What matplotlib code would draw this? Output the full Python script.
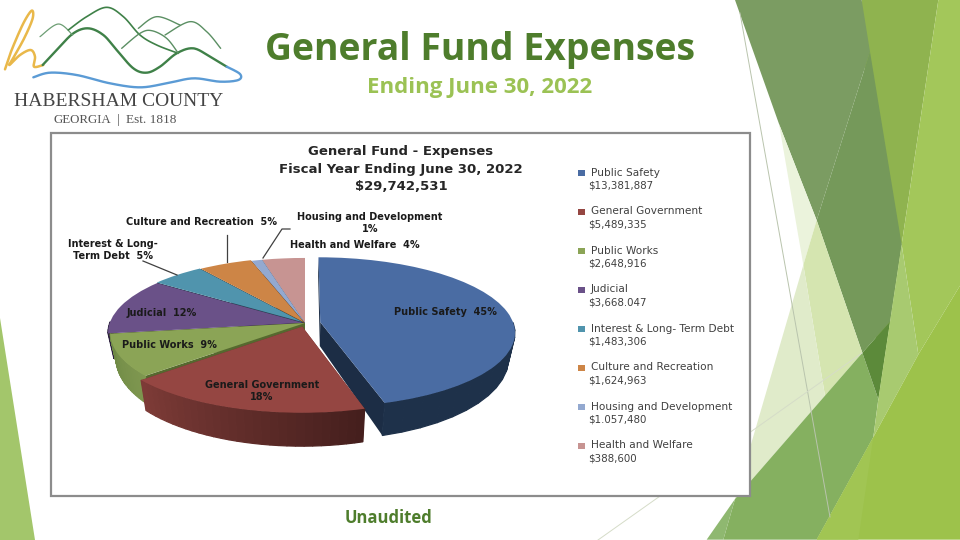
import numpy as np
import matplotlib
matplotlib.use("Agg")
import matplotlib.pyplot as plt
from matplotlib.transforms import Transform
from matplotlib.patches import Polygon, Rectangle

categories = ["Public Safety", "General Government", "Public Works", "Judicial",
              "Interest & Long- Term Debt", "Culture and Recreation",
              "Housing and Development", "Health and Welfare"]
percents = [45, 18, 9, 12, 5, 5, 1, 4]
amounts = ["$13,381,887", "$5,489,335", "$2,648,916", "$3,668.047",
           "$1,483,306", "$1,624,963", "$1.057,480", "$388,600"]

top_colors = ["#4a6ca3", "#954642", "#8ba456", "#6a5188", "#5094ad", "#cd8546", "#93a9d0", "#c79492"]
side_left = ["#1c2d45", "#7d3b37", "#7f9750", "#2e2240", "#35667a", "#8e5a2c", "#5f7190", "#8a6462"]
side_right = ["#203450", "#451f1d", "#6f8a45", "#2e2240", "#2f5a6c", "#7d4f27", "#566783", "#7c5957"]
cut_colors = ["#1c2d45", "#6b302d", "#56692f", "#2e2240", "#264a59", "#6b4320", "#47556d", "#6b4d4b"]
explode = [0.08, 0.05, 0.0, 0.012, 0.018, 0.012, 0.0, 0.0]

# pie tilt, in pixels
CX, CY, RX, RY, K = 305, 323, 193, 73.7, 0.133


def project(u, v, z=0.0):
    u, v = np.asarray(u, float), np.asarray(v, float)
    d = 1 + K * v
    x = RX * u / d
    y = RY * v / d
    if z:
        # bottom face, shifted down and a bit narrower
        return CX + x * 0.97, CY - y + (24 - 9 * v)
    return CX + x, CY - y


class Tilt(Transform):
    input_dims = 2
    output_dims = 2

    def transform_non_affine(self, values):
        x, y = project(values[:, 0], values[:, 1])
        return np.column_stack([x, y])


fig = plt.figure(figsize=(9.6, 5.4), dpi=100, facecolor="white")
ax = fig.add_axes([0, 0, 1, 1])
wedges, _ = ax.pie(percents, explode=explode, startangle=90, counterclock=False,
                   colors=top_colors, wedgeprops={"linewidth": 0})
ax.set_aspect("auto")
ax.set_xlim(0, 960)
ax.set_ylim(540, 0)
ax.set_axis_off()

facets = [
    ("#8fb34f", [(485, 0), (715, 0), (605, 710), (570, 935), (535, 1160)]),
    ("#a3c75a", [(715, 0), (780, 0), (780, 830), (655, 1030), (605, 710)]),
    ("#7b9c62", [(105, 0), (485, 0), (510, 150), (350, 640), (237, 360)]),
    ("#75995a", [(510, 150), (605, 710), (570, 935), (487, 1025), (350, 640)]),
    ("#ebf3dc", [(237, 360), (350, 640), (310, 770)]),
    ("#d5e5b0", [(350, 640), (487, 1025), (375, 1150), (310, 770)]),
    ("#e0ebca", [(310, 770), (375, 1150), (105, 1450)]),
    ("#85b060", [(487, 1025), (535, 1160), (520, 1270), (350, 1568), (70, 1568), (105, 1450)]),
    ("#8fb870", [(105, 1450), (70, 1568), (20, 1568)]),
    ("#5c8a3a", [(487, 1025), (570, 935), (535, 1160)]),
    ("#a8ca70", [(570, 935), (605, 710), (655, 1030), (520, 1270), (535, 1160)]),
    ("#9dc24b", [(780, 830), (780, 1568), (350, 1568), (520, 1270), (655, 1030)]),
    ("#a1c553", [(520, 1270), (475, 1568), (350, 1568)]),
]
for color, pts in facets:
    pts = np.array(pts, float)
    ax.add_patch(Polygon(np.column_stack([700 + pts[:, 0] / 3, pts[:, 1] / 3 * 540 / 523]),
                         closed=True, fc=color, ec="none", zorder=1))
ax.add_patch(Polygon([(0, 318), (35, 540), (0, 540)], closed=True, fc="#a3c66b", ec="none", zorder=1))
ax.plot([740, 830], [13, 517], color="#b9c4ad", lw=0.7, zorder=1.5)
ax.plot([598, 862], [540, 353], color="#d5dcc8", lw=0.7, zorder=1.5)

# chart box
ax.add_patch(Rectangle((51, 133), 699, 363, fc="white", ec="#8c8c8c", lw=1.6, zorder=2))

# slices: sides first, then the top, far slices before near ones
fractions = np.array(percents, float) / sum(percents)
edges = np.concatenate([[0], np.cumsum(fractions)]) * 2 * np.pi
mids = (edges[:-1] + edges[1:]) / 2
order = np.argsort(-np.cos(mids))
for rank, i in enumerate(order):
    z = 3 + rank * 0.1
    ox = explode[i] * np.sin(mids[i])
    oy = explode[i] * np.cos(mids[i])
    for a in (edges[i], edges[i + 1]):
        us = np.array([ox, ox + np.sin(a)])
        vs = np.array([oy, oy + np.cos(a)])
        tx, ty = project(us, vs)
        bx, by = project(us, vs, 1)
        ax.fill(np.r_[tx, bx[::-1]], np.r_[ty, by[::-1]], color=cut_colors[i], lw=0, zorder=z)
    angles = np.linspace(edges[i], edges[i + 1], 30)
    c0 = np.array(matplotlib.colors.to_rgb(side_left[i]))
    c1 = np.array(matplotlib.colors.to_rgb(side_right[i]))
    for j in range(len(angles) - 1):
        us = ox + np.sin(angles[j:j + 2])
        vs = oy + np.cos(angles[j:j + 2])
        if vs.max() > 0.02:
            continue
        tx, ty = project(us, vs)
        bx, by = project(us, vs, 1)
        # left colour sits at the small-x end of the slice
        t = 1 - j / (len(angles) - 2) if angles[0] < np.pi else j / (len(angles) - 2)
        if i == 0:
            t = 0.5
        ax.fill(np.r_[tx, bx[::-1]], np.r_[ty, by[::-1]], color=c0 + (c1 - c0) * t,
                lw=0.9, zorder=z + 0.01)
    wedges[i].set_transform(Tilt() + ax.transData)
    wedges[i].set_zorder(z + 0.02)

# labels on and around the pie
label_font = {"family": "DejaVu Sans", "weight": "bold", "fontsize": 7.0,
              "ha": "center", "va": "center", "zorder": 8, "color": "#1a1a1a", "linespacing": 1.35}
ax.text(445, 312, f"{categories[0]}  {percents[0]}%", **label_font)
ax.text(262, 391, f"{categories[1]}\n{percents[1]}%", **label_font)
ax.text(169, 345, f"{categories[2]}  {percents[2]}%", **label_font)
ax.text(162, 313, f"{categories[3]}  {percents[3]}%", **label_font)
ax.text(113, 250, f"Interest & Long-\nTerm Debt  {percents[4]}%", **label_font)
ax.text(201, 222, f"{categories[5]}  {percents[5]}%", **label_font)
ax.text(370, 223, f"{categories[6]}\n{percents[6]}%", **label_font)
ax.text(355, 245, f"{categories[7]}  {percents[7]}%", **label_font)

leader = {"color": "#404040", "lw": 0.9, "zorder": 7}
ax.plot([227, 227], [235, 262], **leader)
ax.plot([143, 177], [261, 275], **leader)
ax.plot([290, 282, 263], [229, 229, 258], **leader)

# chart title
for y, line in [(152, "General Fund - Expenses"), (170, "Fiscal Year Ending June 30, 2022"),
                (187, "$29,742,531")]:
    ax.text(401, y, line, fontsize=9.5, weight="bold", ha="center", va="center",
            family="DejaVu Sans", color="#262626", zorder=8)

# legend
for i, name in enumerate(categories):
    y = 172.5 + i * 39
    ax.add_patch(Rectangle((578, y - 3), 7, 6, fc=top_colors[i], ec="none", zorder=8))
    ax.text(591, y, name, fontsize=7.6, ha="left", va="center", family="DejaVu Sans", color="#404040", zorder=8)
    ax.text(588, y + 13, amounts[i], fontsize=7.4, ha="left", va="center", family="DejaVu Sans",
            color="#404040", zorder=8)

# slide headings
ax.text(480, 50, "General Fund Expenses", fontsize=26.9, weight="bold", ha="center", va="center",
        family="Open Sans", color="#4e7d2c", zorder=8)
ax.text(480, 87, "Ending June 30, 2022", fontsize=16, weight="bold", ha="center", va="center",
        family="Open Sans", color="#9bc254", zorder=8)
ax.text(388, 518, "Unaudited", fontsize=12, weight="bold", ha="center", va="center",
        family="Open Sans", color="#4e7d2c", zorder=8)


# logo
def smooth(points, n=14):
    # catmull-rom through the given crop points
    p = np.array(points, float) / 3
    p = np.vstack([p[0], p, p[-1]])
    out = []
    for a, b, c, d in zip(p[:-3], p[1:-2], p[2:-1], p[3:]):
        for t in np.linspace(0, 1, n, endpoint=False):
            out.append(0.5 * (2 * b + (c - a) * t + (2 * a - 5 * b + 4 * c - d) * t ** 2
                              + (3 * b - a - 3 * c + d) * t ** 3))
    out.append(p[-2])
    return np.array(out)


logo_lines = [
    ("#e9b84a", 1.8, [(15, 208), (35, 150), (70, 70), (95, 32), (98, 55), (75, 110), (45, 165), (28, 195),
                      (60, 165), (92, 150), (105, 170), (102, 200), (130, 195)]),
    ("#3f8148", 1.7, [(128, 195), (170, 150), (220, 100), (265, 85), (310, 105), (350, 150), (400, 205),
                      (440, 218), (480, 200), (530, 160), (580, 145), (630, 170), (680, 200)]),
    ("#6d9e74", 0.9, [(120, 110), (175, 72), (218, 105)]),
    ("#3f8148", 1.2, [(205, 90), (260, 50), (320, 22), (370, 50), (420, 105), (470, 135), (535, 160)]),
    ("#5b8f63", 1.0, [(365, 145), (420, 100), (455, 92), (500, 115), (535, 160)]),
    ("#5b8f63", 1.0, [(415, 85), (470, 50), (540, 75)]),
    ("#5b8f63", 1.0, [(495, 105), (570, 65), (620, 95), (662, 145)]),
    ("#5b9bd5", 1.7, [(100, 232), (150, 218), (230, 225), (330, 250), (420, 262), (500, 250), (580, 235),
                      (660, 245), (715, 240), (720, 222), (680, 200)]),
]
for color, width, pts in logo_lines:
    curve = smooth(pts)
    ax.plot(curve[:, 0], curve[:, 1], color=color, lw=width, solid_capstyle="round", zorder=8)
ax.text(118.5, 101, "HABERSHAM COUNTY", fontsize=14, ha="center", va="center",
        family="Liberation Serif", color="#444444", zorder=8)
ax.text(111, 120, "GEORGIA", fontsize=9.3, ha="right", va="center", family="Liberation Serif",
        color="#555555", zorder=8)
ax.plot([118, 118], [114, 125], color="#888888", lw=0.7, zorder=8)
ax.text(126, 120, "Est. 1818", fontsize=9.5, ha="left", va="center", family="Liberation Serif",
        color="#555555", zorder=8)

fig.savefig("out.png", dpi=100)
